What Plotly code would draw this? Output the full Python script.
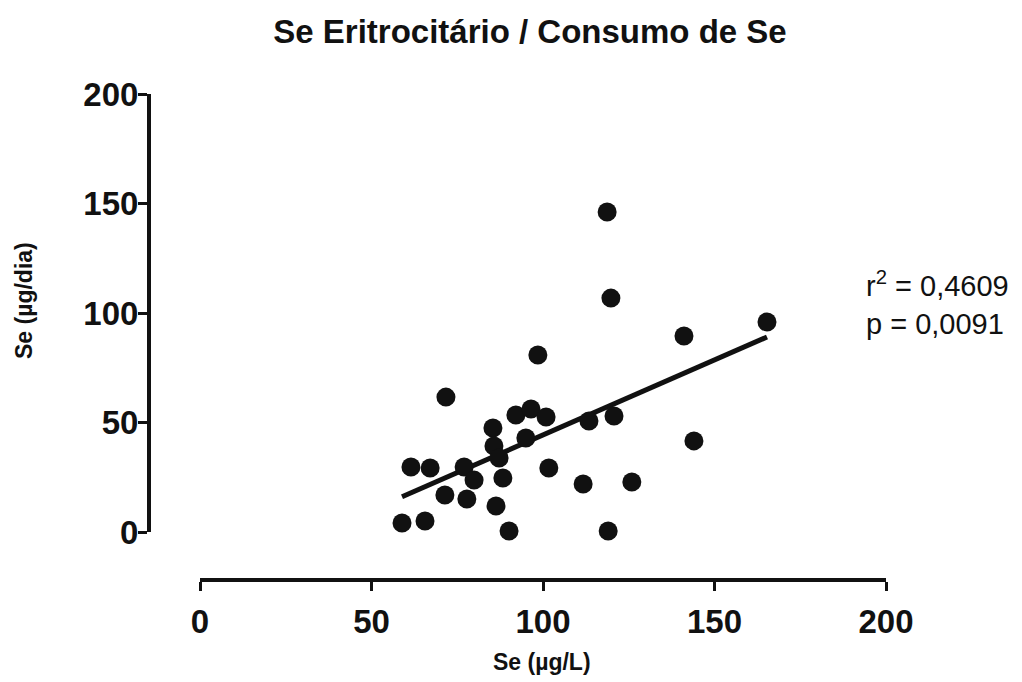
import numpy as np
import plotly.graph_objects as go

# Data
se_plasma = [58.9, 65.6, 61.5, 67.1, 71.7, 71.4, 77.0, 77.8, 79.9, 85.4,
             85.7, 87.2, 86.3, 88.3, 90.1, 92.1, 96.5, 95.0, 98.5, 100.9,
             101.7, 111.7, 113.4, 118.7, 119.0, 119.8, 120.7, 125.9, 141.1,
             144.0, 165.3]
se_intake = [4.1, 5.0, 29.7, 29.2, 61.6, 16.9, 29.7, 15.1, 23.7, 47.5,
             39.3, 33.8, 11.9, 24.7, 0.5, 53.4, 56.2, 42.9, 80.8, 52.5,
             29.2, 21.9, 50.7, 146.1, 0.5, 106.8, 53.0, 22.8, 89.5,
             41.6, 95.9]
tick_vals = [0, 50, 100, 150, 200]
title_text = "Se Eritrocitário / Consumo de Se"
x_title = "Se (µg/L)"
y_title = "Se (µg/dia)"
stats_text = "r<sup>2</sup> = 0,4609<br>p = 0,0091"

x = np.array(se_plasma)
y = np.array(se_intake)
slope, intercept = np.polyfit(x, y, 1)
fit_x = np.array([x.min(), x.max()])
fit_y = slope * fit_x + intercept

INK = "#111111"
FONT = "Arial, Liberation Sans, sans-serif"

fig = go.Figure()
fig.add_trace(go.Scatter(x=fit_x, y=fit_y, mode="lines", cliponaxis=False,
                         line=dict(color=INK, width=5), hoverinfo="skip"))
fig.add_trace(go.Scatter(x=x, y=y, mode="markers", cliponaxis=False,
                         marker=dict(color=INK, size=19, line=dict(width=0))))

L, R, T, B = 149, 136, 94, 102
W, H = 1022, 682
pw, ph = W - L - R, H - T - B

def px(p):
    return (p - L) / pw

def py(p):
    return (H - B - p) / ph

axis_common = dict(
    showline=True, linewidth=4, linecolor=INK,
    ticks="outside", ticklen=9, tickwidth=3, tickcolor=INK,
    showgrid=False, zeroline=False, automargin=False,
    tickvals=tick_vals, range=[0, 200],
    tickfont=dict(family=FONT, size=33, color=INK, weight="bold"),
    anchor="free", position=0,
)

fig.update_layout(
    width=W, height=H,
    margin=dict(l=L, r=R, t=T, b=B),
    paper_bgcolor="white", plot_bgcolor="white",
    showlegend=False,
    xaxis=dict(domain=[px(200), 1], ticklabelstandoff=2, **axis_common),
    yaxis=dict(domain=[py(532), 1], ticklabelstandoff=-7, **axis_common),
    title=dict(text=title_text, x=530 / W, xanchor="center",
               y=1 - 31 / H, yanchor="middle", xref="container", yref="container",
               font=dict(family=FONT, size=33, color=INK, weight="bold")),
    annotations=[
        dict(text=x_title, xref="paper", yref="paper", x=px(542), y=py(662),
             xanchor="center", yanchor="middle", showarrow=False,
             font=dict(family=FONT, size=23, color=INK, weight="bold")),
        dict(text=y_title, xref="paper", yref="paper", x=px(24), y=py(301),
             xanchor="center", yanchor="middle", showarrow=False, textangle=-90,
             font=dict(family=FONT, size=23, color=INK, weight="bold")),
        dict(text=stats_text, xref="paper", yref="paper", x=px(864), y=py(303),
             xanchor="left", yanchor="middle", showarrow=False, align="left",
             font=dict(family=FONT, size=29, color=INK)),
    ],
)

fig.write_html("out.html")
